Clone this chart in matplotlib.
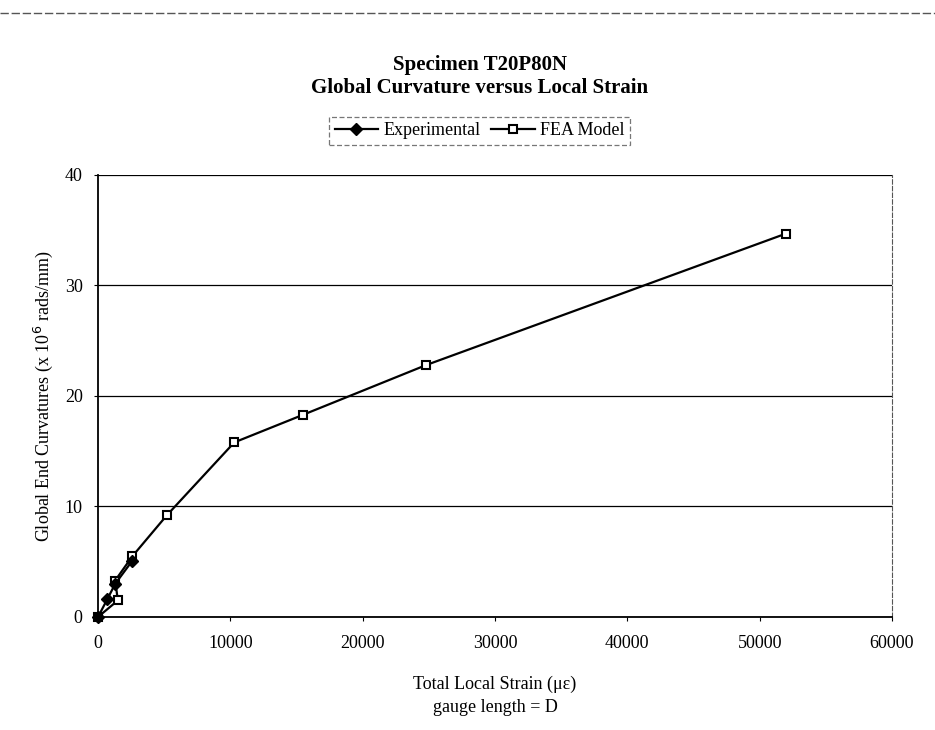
import matplotlib
matplotlib.use("Agg")
import matplotlib.pyplot as plt
from matplotlib.lines import Line2D

plt.rcParams['font.family'] = ['Liberation Serif', 'DejaVu Serif']

# Experimental readings
exp_strain = [0, 700, 1300, 2600]
exp_curv = [0, 1.6, 3.0, 5.1]

# FEA model predictions
fea_strain = [0, 1500, 1300, 2600, 5200, 10300, 15500, 24800, 52000]
fea_curv = [0, 1.5, 3.3, 5.5, 9.2, 15.8, 18.3, 22.8, 34.7]

x_ticks = [0, 10000, 20000, 30000, 40000, 50000, 60000]
y_ticks = [0, 10, 20, 30, 40]

fig = plt.figure(figsize=(9.35, 7.3), dpi=100)
ax = fig.add_axes([0.1048, 0.1548, 0.8492, 0.6055])

ax.plot(fea_strain, fea_curv, color='black', lw=1.6, marker='s', ms=6,
        mfc='white', mec='black', mew=1.5, zorder=3, clip_on=False)
ax.plot(exp_strain, exp_curv, color='black', lw=1.6, marker='D', ms=6,
        mfc='black', mec='black', zorder=4, clip_on=False)

ax.set_xlim(0, 60000)
ax.set_ylim(0, 40)
ax.set_xticks(x_ticks)
ax.set_yticks(y_ticks)
ax.tick_params(labelsize=13, length=3, direction='out')
ax.tick_params(axis='x', pad=10)
ax.tick_params(axis='y', pad=8)
ax.yaxis.grid(True, color='black', lw=0.9)
ax.set_axisbelow(True)
for side in ('left', 'bottom'):
    ax.spines[side].set_linewidth(1.3)
ax.spines['right'].set_linestyle((0, (4, 2)))
ax.spines['right'].set_color('#555555')
ax.spines['top'].set_visible(False)

ax.set_xlabel('Total Local Strain (\u03bc\u03b5)\ngauge length = D', fontsize=13,
              labelpad=17, linespacing=1.45)
ax.set_ylabel('Global End Curvatures (x 10$^{6}$ rads/mm)', fontsize=13, labelpad=7)

fig.text(0.513, 0.911, 'Specimen T20P80N', ha='center', va='center',
         fontsize=15, fontweight='bold')
fig.text(0.513, 0.879, 'Global Curvature versus Local Strain', ha='center',
         va='center', fontsize=15, fontweight='bold')

handles = [
    Line2D([], [], color='black', lw=1.6, marker='D', ms=6, mfc='black'),
    Line2D([], [], color='black', lw=1.6, marker='s', ms=6, mfc='white', mew=1.5),
]
leg = fig.legend(handles, ['Experimental', 'FEA Model'], loc='center',
                 bbox_to_anchor=(0.513, 0.821), ncol=2, fontsize=13,
                 frameon=True, fancybox=False, handlelength=2.4,
                 handletextpad=0.3, columnspacing=0.6, borderpad=0.3)
leg.get_frame().set_edgecolor('#555555')
leg.get_frame().set_linestyle((0, (4, 2)))
leg.get_frame().set_linewidth(0.9)

# outer chart border line
fig.add_artist(Line2D([0.0, 1.0], [0.982, 0.982], transform=fig.transFigure,
                      color='#555555', lw=1.0, ls=(0, (6, 2))))

fig.savefig('out.png', dpi=100, facecolor='white')
